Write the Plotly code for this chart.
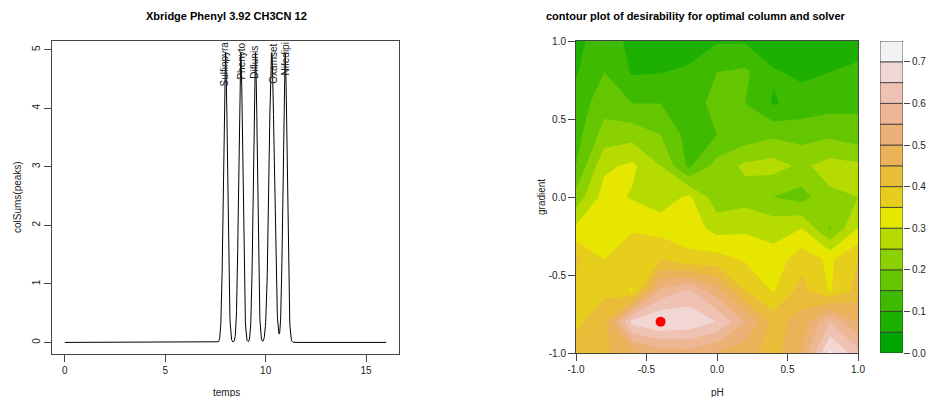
import colorsys
import numpy as np
import plotly.graph_objects as go

W, H = 930, 397

# ---------------- left panel data (chromatogram) ----------------
peak_names = ["Sulfinpyra", "Phenyto", "Diflunis", "Oxamset", "Nifedipi"]
peak_centers = [8.00, 8.76, 9.49, 10.30, 10.97]
peak_heights = [4.95, 4.95, 4.95, 4.95, 4.95]
peak_sigmas = [0.10, 0.10, 0.10, 0.13, 0.10]
label_x = [7.97, 8.82, 9.47, 10.41, 11.01]
label_y = [4.36, 4.48, 4.48, 4.40, 4.55]
time_start, time_end, time_step = 0.0, 16.0, 0.01
left_xticks = [0, 5, 10, 15]
left_yticks = [0, 1, 2, 3, 4, 5]

# ---------------- right panel data (desirability) ----------------
ph_values = [-1.0, -0.8, -0.6, -0.4, -0.2, 0.0, 0.2, 0.4, 0.6, 0.8, 1.0]
gradient_top_down = [1.0, 0.8, 0.6, 0.4, 0.2, 0.0, -0.2, -0.4, -0.6, -0.8, -1.0]
d_g100 = [0.09, 0.12, 0.09, 0.07, 0.07, 0.095, 0.095, 0.07, 0.06, 0.07, 0.08]
d_g080 = [0.095, 0.15, 0.095, 0.098, 0.11, 0.15, 0.16, 0.105, 0.09, 0.10, 0.11]
d_g060 = [0.12, 0.18, 0.15, 0.15, 0.12, 0.17, 0.15, 0.095, 0.12, 0.13, 0.14]
d_g040 = [0.13, 0.22, 0.23, 0.20, 0.13, 0.15, 0.17, 0.19, 0.18, 0.19, 0.17]
d_g020 = [0.15, 0.29, 0.31, 0.25, 0.14, 0.22, 0.26, 0.27, 0.24, 0.27, 0.26]
d_g000 = [0.22, 0.32, 0.295, 0.27, 0.31, 0.22, 0.23, 0.20, 0.18, 0.24, 0.25]
d_gm020 = [0.31, 0.33, 0.345, 0.33, 0.33, 0.28, 0.29, 0.28, 0.30, 0.195, 0.30]
d_gm040 = [0.41, 0.35, 0.38, 0.40, 0.36, 0.37, 0.345, 0.32, 0.38, 0.34, 0.40]
d_gm060 = [0.38, 0.39, 0.345, 0.56, 0.61, 0.52, 0.40, 0.345, 0.42, 0.345, 0.42]
d_gm080 = [0.39, 0.43, 0.67, 0.705, 0.69, 0.65, 0.55, 0.43, 0.47, 0.60, 0.50]
d_gm100 = [0.42, 0.44, 0.48, 0.52, 0.53, 0.50, 0.47, 0.43, 0.50, 0.71, 0.62]
optimum_ph = [-0.4]
optimum_gradient = [-0.8]
level_step = 0.05
n_levels = 15  # 0.00 .. 0.75
key_ticks = [0.0, 0.1, 0.2, 0.3, 0.4, 0.5, 0.6, 0.7]
contour_ticks = [-1.0, -0.5, 0.0, 0.5, 1.0]


def terrain_colors(n):
    k = n // 2
    h = [4 / 12, 2 / 12, 0.0]
    s = [1.0, 1.0, 0.0]
    v = [0.65, 0.9, 0.95]
    out = []
    for i in range(k):
        t = i / (k - 1)
        out.append((h[0] + (h[1] - h[0]) * t, s[0] + (s[1] - s[0]) * t, v[0] + (v[1] - v[0]) * t))
    m = n - k + 1
    for i in range(1, m):
        t = i / (m - 1)
        out.append((h[1] + (h[2] - h[1]) * t, s[1] + (s[2] - s[1]) * t, v[1] + (v[2] - v[1]) * t))
    cols = []
    for hh, ss, vv in out:
        r, g, b = colorsys.hsv_to_rgb(hh, ss, vv)
        cols.append("rgb(%d,%d,%d)" % (round(r * 255), round(g * 255), round(b * 255)))
    return cols


colors = terrain_colors(n_levels)
levels = [round(i * level_step, 4) for i in range(n_levels + 1)]

# chromatogram curve: sum of the gaussian peaks
t = np.arange(time_start, time_end + time_step / 2, time_step)
signal = np.zeros_like(t)
for c, h, s in zip(peak_centers, peak_heights, peak_sigmas):
    signal += h * np.exp(-((t - c) ** 2) / (2 * s ** 2))

z_rows = [d_g100, d_g080, d_g060, d_g040, d_g020, d_g000,
          d_gm020, d_gm040, d_gm060, d_gm080, d_gm100]
z = z_rows[::-1]
gradient_values = gradient_top_down[::-1]


def px_x(p):
    return p / W


def px_y(p):
    return (H - p) / H


TXT = "#222222"
LINE = "#444444"
FONT = "Liberation Sans, Arial, sans-serif"

fig = go.Figure()

fig.add_trace(go.Scatter(x=t, y=signal, mode="lines",
                         line=dict(color="black", width=1),
                         xaxis="x", yaxis="y", hoverinfo="skip"))

cs = [[j / (n_levels - 1), colors[j]] for j in range(n_levels)]
fig.add_trace(go.Contour(
    x=ph_values, y=gradient_values, z=z,
    colorscale=cs,
    contours=dict(start=levels[1], end=levels[-2], size=level_step,
                  coloring="fill", showlines=False),
    line=dict(width=0, smoothing=0),
    showscale=False, xaxis="x2", yaxis="y2", hoverinfo="skip"))

fig.add_trace(go.Scatter(x=optimum_ph, y=optimum_gradient, mode="markers",
                         marker=dict(color="#FF0000", size=10),
                         xaxis="x2", yaxis="y2", hoverinfo="skip"))

fig.add_trace(go.Bar(x=[0] * n_levels, y=[level_step] * n_levels,
                     base=levels[:-1], width=[1] * n_levels,
                     marker=dict(color=colors, line=dict(color="#333333", width=0.8)),
                     xaxis="x3", yaxis="y3", hoverinfo="skip"))


def axis_style(**kw):
    d = dict(showgrid=False, zeroline=False, showline=True, mirror=True,
             linecolor=LINE, linewidth=1, ticks="outside", ticklen=7,
             tickcolor=LINE, tickwidth=1, automargin=False,
             tickfont=dict(size=10, color=TXT, family=FONT))
    d.update(kw)
    return d


def fmt1(v):
    return "%.1f" % v


left_dom_x = [px_x(52), px_x(399)]
left_dom_y = [px_y(354), px_y(41)]
right_dom_x = [px_x(576), px_x(858)]
right_dom_y = [px_y(353), px_y(41)]
key_dom_x = [px_x(880), px_x(903)]

fig.update_layout(
    width=W, height=H,
    margin=dict(l=0, r=0, t=0, b=0, pad=0, autoexpand=False),
    paper_bgcolor="white", plot_bgcolor="white",
    showlegend=False,
    font=dict(family=FONT, color=TXT),
    barmode="overlay",
    xaxis=axis_style(domain=left_dom_x, range=[-0.64, 16.64], anchor="y",
                     tickvals=left_xticks, ticktext=[str(v) for v in left_xticks]),
    yaxis=axis_style(domain=left_dom_y, range=[-0.198, 5.148], anchor="x",
                     tickvals=left_yticks, ticktext=[str(v) for v in left_yticks],
                     tickangle=-90),
    xaxis2=axis_style(domain=right_dom_x, range=[-1, 1], anchor="y2",
                      tickvals=contour_ticks, ticktext=[fmt1(v) for v in contour_ticks]),
    yaxis2=axis_style(domain=right_dom_y, range=[-1, 1], anchor="x2",
                      tickvals=contour_ticks, ticktext=[fmt1(v) for v in contour_ticks]),
    xaxis3=dict(domain=key_dom_x, range=[-0.5, 0.5], anchor="y3", visible=False,
                fixedrange=True, automargin=False),
    yaxis3=dict(domain=right_dom_y, range=[0, levels[-1]], anchor="x3", side="right",
                showgrid=False, zeroline=False, showline=False, ticks="outside",
                ticklen=6, tickcolor=LINE, tickvals=key_ticks, automargin=False,
                ticktext=[fmt1(v) for v in key_ticks],
                tickfont=dict(size=10, color=TXT, family=FONT)),
)

ann = []
for name, lx, ly in zip(peak_names, label_x, label_y):
    ann.append(dict(x=lx, y=ly, xref="x", yref="y", text=name, textangle=-90,
                    xanchor="center", yanchor="bottom", showarrow=False,
                    font=dict(size=10, color=TXT, family=FONT), borderpad=0))

ann += [
    dict(x=px_x(226), y=px_y(16), xref="paper", yref="paper",
         text="<b>Xbridge Phenyl 3.92 CH3CN 12</b>", showarrow=False,
         xanchor="center", yanchor="middle", font=dict(size=11, color="black", family=FONT)),
    dict(x=px_x(544), y=px_y(16), xref="paper", yref="paper",
         text="<b>contour plot of desirability for optimal column and solver</b>",
         showarrow=False, xanchor="left", yanchor="middle",
         font=dict(size=11, color="black", family=FONT)),
    dict(x=px_x(226), y=px_y(392), xref="paper", yref="paper", text="temps",
         showarrow=False, xanchor="center", yanchor="middle", font=dict(size=10, color=TXT)),
    dict(x=px_x(17), y=px_y(197), xref="paper", yref="paper", text="colSums(peaks)",
         textangle=-90, showarrow=False, xanchor="center", yanchor="middle",
         font=dict(size=10, color=TXT)),
    dict(x=px_x(717), y=px_y(392), xref="paper", yref="paper", text="pH",
         showarrow=False, xanchor="center", yanchor="middle", font=dict(size=10, color=TXT)),
    dict(x=px_x(541), y=px_y(197), xref="paper", yref="paper", text="gradient",
         textangle=-90, showarrow=False, xanchor="center", yanchor="middle",
         font=dict(size=10, color=TXT)),
]
fig.update_layout(annotations=ann)

fig.write_html("out.html",
               config={"displayModeBar": False, "staticPlot": True},
               post_script="document.body.style.margin='0px';document.body.style.overflow='hidden';")
